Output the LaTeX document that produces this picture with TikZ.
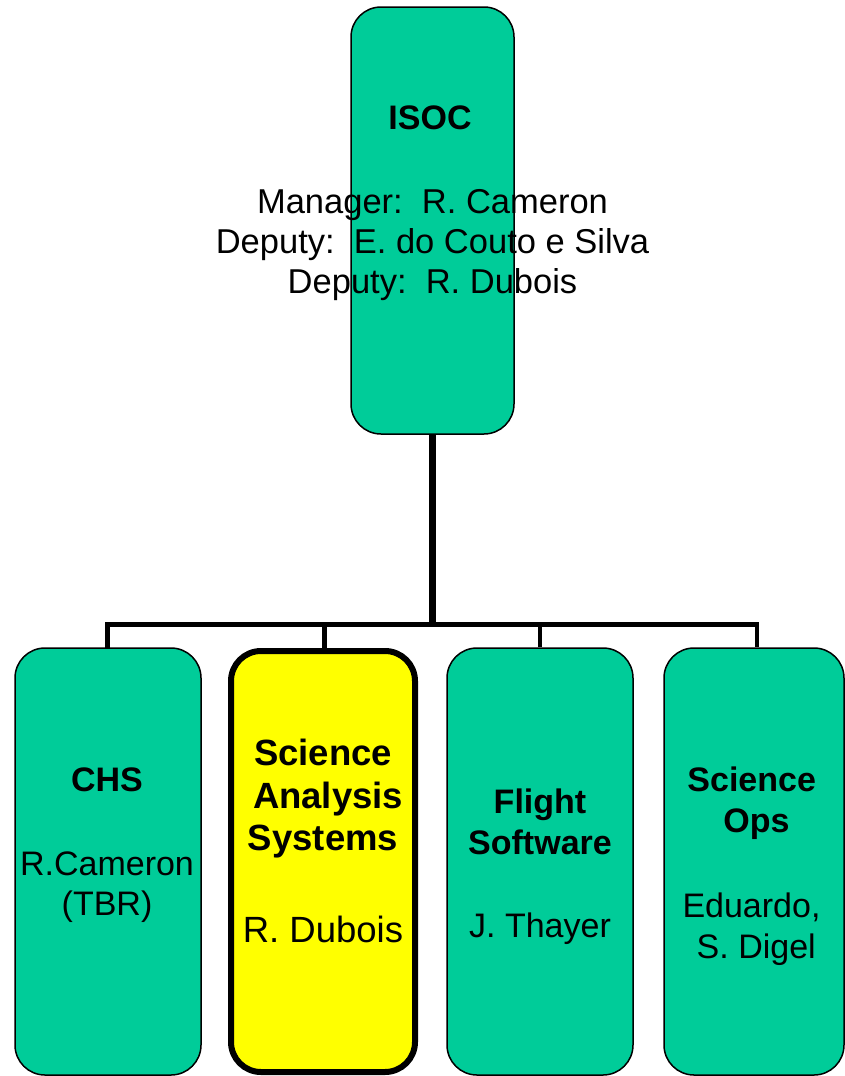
\documentclass[tikz,border=0pt]{standalone}
\usepackage{fontspec}
\setmainfont{Liberation Sans}
\definecolor{boxgreen}{RGB}{0,204,153}
\definecolor{boxyellow}{RGB}{255,255,0}
\tikzset{
  unit/.style={draw=black, line width=1.5pt, fill=boxgreen, rounded corners=30pt,
    inner sep=0pt, minimum height=427pt},
  hilite/.style={unit, fill=boxyellow, line width=6pt, minimum height=421pt},
  wire/.style={line width=4.6pt, line join=miter},
  trunkwire/.style={line width=7pt},
  % base anchor of a multi-line text sits on its last line
  txt/.style={inner sep=0pt, anchor=base, align=center,
    font=\fontsize{34}{41}\selectfont},
  btxt/.style={txt, font=\fontsize{34}{41}\selectfont\bfseries},
  bigtxt/.style={txt, font=\fontsize{36.5}{42.5}\selectfont},
  bigbtxt/.style={txt, font=\fontsize{36.5}{42.5}\selectfont\bfseries},
}
\begin{document}
\begin{tikzpicture}[x=1pt, y=-1pt]
\useasboundingbox (0,0) rectangle (845,1076);

% top box
\node[unit, minimum width=163pt] (isoc) at (432.5,220.5) {};
% second row
\node[unit, minimum width=186pt] (chs) at (108,861.5) {};
\node[hilite, minimum width=184pt] (sas) at (323,861.5) {};
\node[unit, minimum width=186pt] (fsw) at (540,861.5) {};
\node[unit, minimum width=180pt] (ops) at (754,861.5) {};

% connectors
\coordinate (bus) at (432.5,624.5);
\draw[trunkwire] (isoc.south) -- (isoc.south |- bus);
\draw[wire] (107.5,648) coordinate (chstop) -- (chstop |- bus)
  -- (757,624.5) coordinate (opsbus) -- (opsbus |- ops.north);
\draw[wire] (sas.north -| 324.5,0) coordinate (sastop) -- (sastop |- bus);
\draw[wire] (fsw.north) -- (fsw.north |- bus);

% texts
\node[btxt] (isoct) at (430,129.3) {ISOC};
\node[txt, font=\fontsize{34.5}{40}\selectfont] (isocm) at (432.5,293) {Manager:\ \ R. Cameron\\Deputy:\ \ E. do Couto e Silva\\Deputy:\ \ R. Dubois};

\node[btxt] (chst) at (107,791.7) {CHS};
\node[txt, font=\fontsize{34}{40}\selectfont] (chsn) at (107,915.5) {R.Cameron\\(TBR)};

\node[bigbtxt] (sast) at (323,850.7) {Science\\\ Analysis\\Systems};
\node[bigtxt] (sasn) at (323,942.7) {R. Dubois};

\node[btxt] (fswt) at (540,854) {Flight\\Software};
\node[txt] (fswn) at (540,937) {J. Thayer};

\node[btxt] (opst) at (751.7,832.7) {Science\\\ Ops};
\node[txt] (opsn) at (751.5,958) {Eduardo,\\\ S. Digel};
\end{tikzpicture}
\end{document}
